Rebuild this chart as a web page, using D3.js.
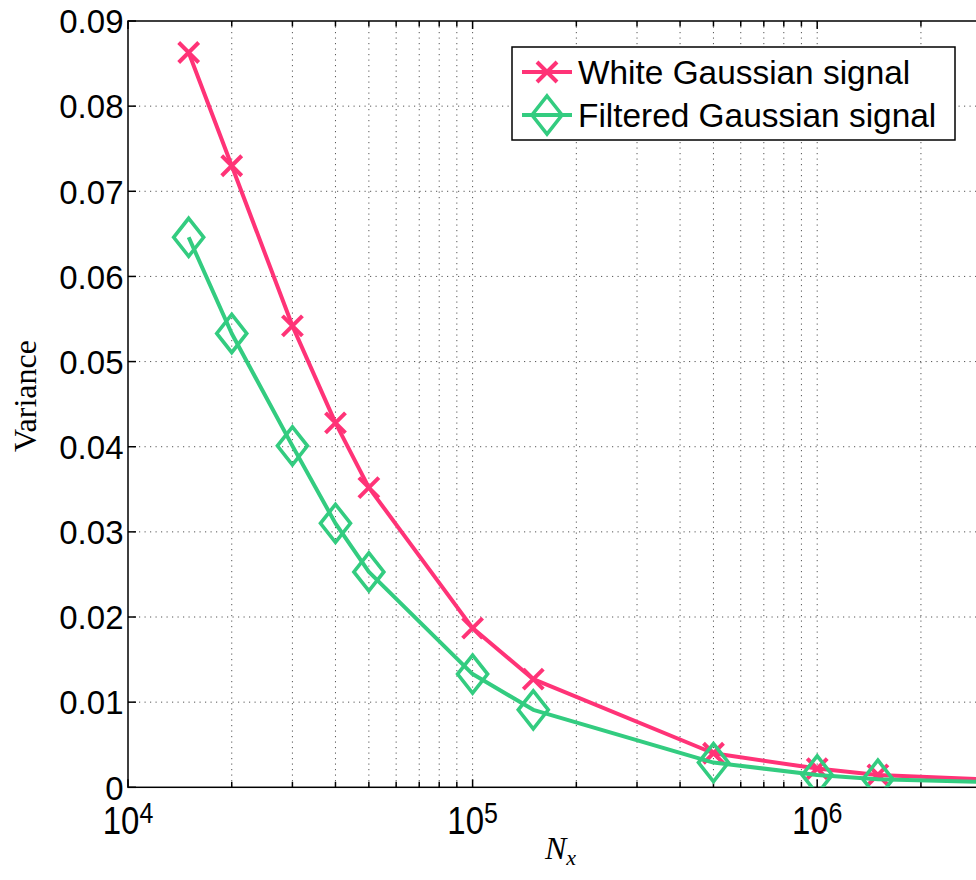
<!DOCTYPE html>
<html><head><meta charset="utf-8">
<script src="https://cdn.jsdelivr.net/npm/d3@7/dist/d3.min.js"></script>
<style>body{margin:0;background:#fff}svg{display:block}</style>
</head><body>
<svg id="c" width="976" height="880"></svg>
<script>
// ---- data ----
const nx = [1.5e4, 2e4, 3e4, 4e4, 5e4, 1e5, 1.5e5, 5e5, 1e6, 1.5e6, 5e6];
const whiteVar = [0.0863, 0.0730, 0.0542, 0.0428, 0.0352, 0.0187, 0.0127, 0.0040, 0.0022, 0.00145, 0.00058];
const filteredVar = [0.0646, 0.0533, 0.0401, 0.0310, 0.0253, 0.0133, 0.0091, 0.0029, 0.00145, 0.00095, 0.00042];
const seriesNames = ["White Gaussian signal", "Filtered Gaussian signal"];
const yTicks = [0, 0.01, 0.02, 0.03, 0.04, 0.05, 0.06, 0.07, 0.08, 0.09];
const yTickLabels = ["0", "0.01", "0.02", "0.03", "0.04", "0.05", "0.06", "0.07", "0.08", "0.09"];
const xMajor = [1e4, 1e5, 1e6];
const xMajorExp = ["4", "5", "6"];

// ---- layout ----
const W = 976, H = 880;
const L = 128, T = 21, B = 787.3;
const decade = 344.6;
const pink = "#FF3377", green = "#33CC80";
const sans = "Liberation Sans, Arial, Helvetica, sans-serif";
const serif = "Liberation Serif, Times New Roman, serif";

const svg = d3.select("#c");
const x = d3.scaleLog().domain([1e4, 1e7]).range([L, L + 3 * decade]);
const y = d3.scaleLinear().domain([0, 0.09]).range([B, T]);
const R = x.range()[1];

svg.append("defs").append("clipPath").attr("id", "clip")
  .append("rect").attr("x", L).attr("y", T).attr("width", R - L).attr("height", B - T);

// grid
const grid = svg.append("g").attr("stroke", "#555").attr("stroke-width", 1).attr("stroke-dasharray", "1.2,4.3");
const xAll = x.ticks(); // 1e4,2e4,...
xAll.filter(v => v > 1e4 && v < 1e7).forEach(v => {
  grid.append("line").attr("x1", x(v)).attr("x2", x(v)).attr("y1", T).attr("y2", B);
});
yTicks.filter(v => v > 0 && v < 0.09).forEach(v => {
  grid.append("line").attr("x1", L).attr("x2", R).attr("y1", y(v)).attr("y2", y(v));
});

// axes frame and ticks
const ax = svg.append("g").attr("stroke", "#000").attr("stroke-width", 1.5).attr("fill", "none");
ax.append("rect").attr("x", L).attr("y", T).attr("width", R - L).attr("height", B - T);
yTicks.forEach(v => {
  ax.append("line").attr("x1", L).attr("x2", L + 8).attr("y1", y(v)).attr("y2", y(v));
});
xAll.forEach(v => {
  const major = [1e4, 1e5, 1e6, 1e7].includes(v);
  const len = major ? 8 : 5.5;
  ax.append("line").attr("x1", x(v)).attr("x2", x(v)).attr("y1", B).attr("y2", B - len);
  ax.append("line").attr("x1", x(v)).attr("x2", x(v)).attr("y1", T).attr("y2", T + len);
});

// y tick labels
svg.append("g").selectAll("text").data(yTicks).join("text")
  .attr("x", 123.5).attr("y", d => y(d) + 12.3)
  .attr("text-anchor", "end").attr("font-family", sans).attr("font-size", 33)
  .text((d, i) => yTickLabels[i]);

// x tick labels (10^n)
xMajor.forEach((v, i) => {
  const g = svg.append("g").attr("transform", `translate(${x(v)},834) scale(1,1.18)`);
  const t = g.append("text").attr("font-family", sans).attr("font-size", 33).attr("text-anchor", "middle");
  t.append("tspan").text("10");
  t.append("tspan").attr("font-size", 25).attr("dy", -9).text(xMajorExp[i]);
});

// axis labels
svg.append("text").attr("transform", "translate(36,396) rotate(-90)")
  .attr("text-anchor", "middle").attr("font-family", serif).attr("font-size", 32).text("Variance");
const xl = svg.append("text").attr("x", 545).attr("y", 859).attr("font-family", serif).attr("font-style", "italic").attr("font-size", 32);
xl.append("tspan").text("N");
xl.append("tspan").attr("font-size", 22).attr("dy", 6).text("x");

// series
const series = [
  {vals: whiteVar, color: pink, marker: "x"},
  {vals: filteredVar, color: green, marker: "d"}
];
const line = d3.line().x(d => x(d[0])).y(d => y(d[1]));
const plot = svg.append("g").attr("clip-path", "url(#clip)");

function drawMarker(g, type, cx, cy, color) {
  if (type === "x") {
    const s = 10;
    g.append("path").attr("d", `M${cx - s},${cy - s}L${cx + s},${cy + s}M${cx - s},${cy + s}L${cx + s},${cy - s}`)
      .attr("stroke", color).attr("stroke-width", 4).attr("fill", "none");
  } else {
    const w = 15, h = 19;
    g.append("path").attr("d", `M${cx},${cy - h}L${cx + w},${cy}L${cx},${cy + h}L${cx - w},${cy}Z`)
      .attr("stroke", color).attr("stroke-width", 3.6).attr("fill", "none").attr("stroke-linejoin", "miter");
  }
}

series.forEach(s => {
  const pts = nx.map((v, i) => [v, s.vals[i]]);
  plot.append("path").attr("d", line(pts)).attr("fill", "none")
    .attr("stroke", s.color).attr("stroke-width", 4).attr("stroke-linejoin", "round");
  pts.forEach(p => drawMarker(plot, s.marker, x(p[0]), y(p[1]), s.color));
});

// legend
const lg = svg.append("g");
lg.append("rect").attr("x", 512).attr("y", 47).attr("width", 443).attr("height", 93)
  .attr("fill", "#fff").attr("stroke", "#000").attr("stroke-width", 1.5);
const rows = [72, 115];
series.forEach((s, i) => {
  lg.append("line").attr("x1", 522).attr("x2", 572).attr("y1", rows[i]).attr("y2", rows[i])
    .attr("stroke", s.color).attr("stroke-width", 4);
  drawMarker(lg, s.marker, 547, rows[i], s.color);
  lg.append("text").attr("x", 578).attr("y", rows[i] + 12.3).attr("font-family", sans)
    .attr("font-size", 33.4).text(seriesNames[i]);
});
</script>
</body></html>
